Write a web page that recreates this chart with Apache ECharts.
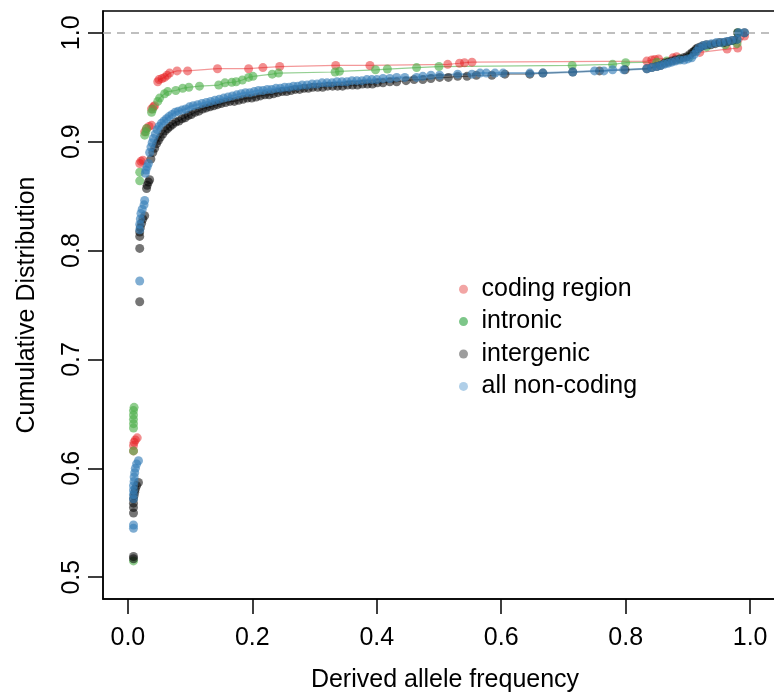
<!DOCTYPE html>
<html>
<head>
<meta charset="utf-8">
<script src="https://cdn.jsdelivr.net/npm/echarts@6/dist/echarts.min.js"></script>
<style>
html,body{margin:0;padding:0;background:#fff;}
#chart{width:774px;height:695px;}
</style>
</head>
<body>
<div id="chart"></div>
<script>
const seriesNames = ['coding region', 'intronic', 'intergenic', 'all non-coding'];
const xTicks = [0, 0.2, 0.4, 0.6, 0.8, 1.0];
const yTicks = [0.5, 0.6, 0.7, 0.8, 0.9, 1.0];
const xTitle = 'Derived allele frequency';
const yTitle = 'Cumulative Distribution';

const codingRegion = [
[0.009,0.616],[0.009,0.621],[0.010,0.624],[0.012,0.626],[0.015,0.628],
[0.019,0.880],[0.021,0.882],[0.024,0.883],
[0.027,0.909],[0.030,0.912],[0.034,0.914],[0.038,0.915],
[0.038,0.930],[0.041,0.932],[0.043,0.933],
[0.048,0.955],[0.050,0.957],[0.055,0.958],[0.059,0.959],[0.063,0.961],[0.067,0.963],[0.079,0.965],[0.096,0.965],
[0.144,0.967],[0.194,0.967],[0.217,0.968],[0.244,0.969],[0.334,0.970],[0.389,0.970],
[0.514,0.971],[0.533,0.972],[0.541,0.9725],[0.553,0.973],
[0.834,0.974],[0.842,0.975],[0.847,0.9755],[0.853,0.976],[0.876,0.977],[0.882,0.978],
[0.919,0.982],[0.963,0.985],[0.980,0.986],[0.991,0.997]
];

const intronic = [
[0.009,0.515],[0.009,0.616],[0.009,0.637],[0.009,0.641],[0.009,0.645],[0.009,0.649],[0.009,0.653],[0.010,0.656],
[0.019,0.864],[0.019,0.872],
[0.027,0.906],[0.029,0.909],[0.030,0.912],
[0.038,0.927],[0.040,0.930],
[0.048,0.937],[0.051,0.940],[0.059,0.944],[0.064,0.946],[0.077,0.947],[0.088,0.949],[0.098,0.950],[0.115,0.951],
[0.146,0.952],[0.156,0.954],[0.167,0.9545],[0.174,0.955],[0.184,0.9566],[0.194,0.959],[0.201,0.960],[0.232,0.962],
[0.242,0.963],[0.333,0.964],[0.340,0.9646],[0.398,0.966],[0.417,0.9667],[0.464,0.968],[0.500,0.969],[0.714,0.970],
[0.779,0.971],[0.800,0.9725],
[0.850,0.973],[0.866,0.974],[0.887,0.976],[0.903,0.978],[0.912,0.983],[0.930,0.987],[0.960,0.989],[0.979,0.990],[0.980,1.000]
];

const intergenic = [
[0.009,0.517],[0.009,0.519],[0.009,0.559],[0.009,0.564],[0.009,0.568],[0.009,0.572],[0.010,0.575],[0.011,0.578],
[0.012,0.581],[0.014,0.584],[0.017,0.587],
[0.019,0.753],[0.019,0.802],[0.019,0.813],[0.019,0.817],[0.020,0.821],[0.022,0.825],[0.024,0.829],[0.027,0.832],
[0.030,0.857],[0.031,0.860],[0.033,0.863],[0.035,0.865],
[0.037,0.884],[0.040,0.890],[0.043,0.894],[0.046,0.898],[0.049,0.901],[0.052,0.904],[0.056,0.907],[0.060,0.910],
[0.064,0.912],[0.068,0.914],[0.072,0.916],[0.077,0.918],[0.082,0.919],[0.087,0.921],[0.092,0.922],[0.097,0.924],
[0.102,0.925],[0.108,0.927],[0.114,0.928],[0.120,0.930],[0.126,0.931],[0.132,0.932],[0.138,0.933],[0.144,0.934],
[0.150,0.935],[0.157,0.936],[0.164,0.937],[0.171,0.937],[0.178,0.938],[0.185,0.939],[0.192,0.940],[0.199,0.940],
[0.206,0.941],[0.213,0.942],[0.220,0.943],[0.227,0.943],[0.234,0.944],[0.241,0.945],[0.248,0.946],[0.255,0.946],
[0.262,0.947],[0.269,0.948],[0.276,0.948],[0.283,0.949],[0.290,0.949],[0.297,0.950],[0.305,0.950],[0.313,0.950],
[0.321,0.951],[0.329,0.951],[0.337,0.951],[0.345,0.951],[0.353,0.952],[0.361,0.952],[0.369,0.952],[0.377,0.953],
[0.385,0.953],[0.393,0.953],[0.401,0.954],[0.410,0.954],[0.421,0.955],[0.432,0.955],[0.447,0.956],[0.460,0.957],
[0.474,0.957],[0.487,0.958],[0.501,0.959],[0.515,0.959],[0.530,0.960],[0.545,0.960],[0.560,0.961],[0.585,0.961],
[0.606,0.962],[0.646,0.962],[0.667,0.963],[0.715,0.964],[0.758,0.965],[0.799,0.966],[0.834,0.967],[0.842,0.968],
[0.850,0.969],[0.856,0.970],[0.862,0.972],[0.868,0.973],[0.874,0.974],[0.880,0.975],[0.887,0.976],[0.893,0.977],
[0.898,0.978],[0.903,0.980],[0.907,0.982],[0.910,0.983],[0.913,0.985],[0.916,0.986],[0.920,0.987],[0.924,0.988],
[0.930,0.989],[0.937,0.989],[0.944,0.990],[0.951,0.991],[0.958,0.991],[0.965,0.992],[0.972,0.993],[0.979,0.994],
[0.980,1.000],[0.991,1.000]
];

const allNonCoding = [
[0.009,0.545],[0.009,0.548],[0.009,0.572],[0.009,0.576],[0.009,0.580],[0.009,0.584],[0.010,0.588],[0.010,0.592],
[0.011,0.596],[0.012,0.600],[0.014,0.604],[0.017,0.607],
[0.019,0.772],[0.019,0.819],[0.019,0.824],[0.020,0.829],[0.021,0.834],[0.023,0.838],[0.026,0.842],[0.027,0.846],
[0.028,0.871],[0.029,0.874],[0.031,0.877],[0.033,0.880],
[0.035,0.890],[0.037,0.895],[0.039,0.899],[0.041,0.903],[0.044,0.907],[0.047,0.911],[0.050,0.914],[0.054,0.917],
[0.058,0.919],[0.062,0.921],[0.066,0.923],[0.071,0.925],[0.076,0.927],[0.081,0.928],[0.087,0.929],[0.093,0.930],
[0.099,0.932],[0.105,0.933],[0.112,0.934],[0.119,0.935],[0.126,0.936],[0.133,0.937],[0.140,0.938],[0.147,0.939],
[0.154,0.940],[0.161,0.941],[0.168,0.942],[0.175,0.943],[0.182,0.944],[0.189,0.945],[0.196,0.945],[0.203,0.946],
[0.210,0.947],[0.217,0.947],[0.224,0.948],[0.231,0.948],[0.238,0.949],[0.245,0.949],[0.252,0.950],[0.259,0.950],
[0.266,0.951],[0.273,0.951],[0.280,0.952],[0.288,0.952],[0.296,0.953],[0.304,0.953],[0.312,0.954],[0.320,0.954],
[0.328,0.954],[0.336,0.955],[0.344,0.955],[0.352,0.955],[0.360,0.956],[0.368,0.956],[0.376,0.956],[0.384,0.957],
[0.392,0.957],[0.400,0.957],[0.410,0.958],[0.421,0.958],[0.432,0.959],[0.445,0.959],[0.464,0.959],[0.474,0.960],
[0.487,0.961],[0.501,0.961],[0.530,0.962],[0.553,0.962],[0.566,0.963],[0.576,0.963],[0.590,0.963],[0.603,0.963],
[0.646,0.963],[0.667,0.963],[0.715,0.964],[0.750,0.965],[0.765,0.965],[0.779,0.966],[0.797,0.966],[0.834,0.967],
[0.842,0.968],[0.850,0.969],[0.856,0.970],[0.862,0.971],[0.868,0.972],[0.874,0.973],[0.880,0.974],[0.887,0.975],
[0.894,0.975],[0.900,0.976],[0.906,0.977],[0.910,0.980],[0.914,0.983],[0.918,0.986],[0.924,0.988],[0.930,0.989],
[0.938,0.990],[0.946,0.991],[0.954,0.991],[0.962,0.992],[0.970,0.993],[0.979,0.994],[0.982,1.000],[0.991,1.000]
];

const groups = [codingRegion, intronic, intergenic, allNonCoding];
const pointColors = ['rgba(228,26,28,0.62)', 'rgba(77,175,74,0.78)', 'rgba(0,0,0,0.68)', 'rgba(55,126,184,0.8)'];
const lineColors = ['rgba(228,26,28,0.45)', 'rgba(77,175,74,0.6)', 'rgba(0,0,0,0.45)', 'rgba(55,126,184,0.55)'];
const legendColors = ['#EF8E8D', '#5DB86B', '#858585', '#9CC3E2'];

const FONT = '"Liberation Sans", Arial, Helvetica, sans-serif';
const TICK_LEN = 15;
const X_MIN = -0.04, X_MAX = 1.04, Y_MIN = 0.48, Y_MAX = 1.02;

const series = [];
groups.forEach((g, i) => {
  series.push({
    name: 'line-' + i,
    type: 'line',
    data: g.filter(p => p[0] >= 0.045),
    showSymbol: false,
    symbol: 'none',
    silent: true,
    z: 1,
    lineStyle: { color: lineColors[i], width: i === 3 ? 2 : 1.2 },
    animation: false
  });
});
groups.forEach((g, i) => {
  series.push({
    name: seriesNames[i],
    type: 'scatter',
    data: g,
    symbol: 'circle',
    symbolSize: 9,
    z: 2 + i,
    itemStyle: { color: pointColors[i] },
    animation: false
  });
});
series[0].markLine = {
  silent: true,
  symbol: 'none',
  label: { show: false },
  lineStyle: { color: '#aaaaaa', type: [8, 6], width: 1.5 },
  data: [{ yAxis: 1.0 }]
};

const titleStyle = {
  fontSize: 25, fontFamily: FONT, fill: '#000',
  align: 'center', verticalAlign: 'middle', textAlign: 'center', textVerticalAlign: 'middle'
};

const option = {
  animation: false,
  grid: {
    left: 103, top: 11, right: -1, bottom: 96,
    outerBoundsMode: 'none',
    show: true, borderColor: '#000', borderWidth: 1.5
  },
  legend: {
    show: true,
    orient: 'vertical',
    left: 454,
    top: 268,
    itemWidth: 26,
    itemHeight: 9,
    itemGap: 0,
    icon: 'circle',
    selectedMode: false,
    textStyle: { fontSize: 25, fontFamily: FONT, color: '#000', lineHeight: 32.4 },
    data: seriesNames.map((n, i) => ({ name: n, itemStyle: { color: legendColors[i] } }))
  },
  graphic: [
    { type: 'text', silent: true, x: 445, y: 680, style: Object.assign({ text: xTitle }, titleStyle) },
    { type: 'text', silent: true, x: 27, y: 305, rotation: Math.PI / 2, style: Object.assign({ text: yTitle }, titleStyle) }
  ],
  xAxis: {
    type: 'value',
    min: X_MIN, max: X_MAX,
    axisLine: { show: true, onZero: false, lineStyle: { color: '#000', width: 1.5 } },
    splitLine: { show: false },
    axisTick: { show: true, length: TICK_LEN, customValues: xTicks, lineStyle: { color: '#000', width: 1.5 } },
    axisLabel: { show: true, customValues: xTicks, margin: 27, fontSize: 25, fontFamily: FONT, color: '#000',
      formatter: v => v.toFixed(1) }
  },
  yAxis: {
    type: 'value',
    min: Y_MIN, max: Y_MAX,
    axisLine: { show: true, onZero: false, lineStyle: { color: '#000', width: 1.5 } },
    splitLine: { show: false },
    axisTick: { show: true, length: TICK_LEN, customValues: yTicks, lineStyle: { color: '#000', width: 1.5 } },
    axisLabel: { show: true, customValues: yTicks, rotate: 90, margin: 18, fontSize: 25, fontFamily: FONT, color: '#000',
      formatter: v => v.toFixed(1) }
  },
  series: series
};

const chart = echarts.init(document.getElementById('chart'), null, { renderer: 'canvas' });
try { chart.setOption(option); } catch (e) { console.error(e); }
</script>
</body>
</html>
